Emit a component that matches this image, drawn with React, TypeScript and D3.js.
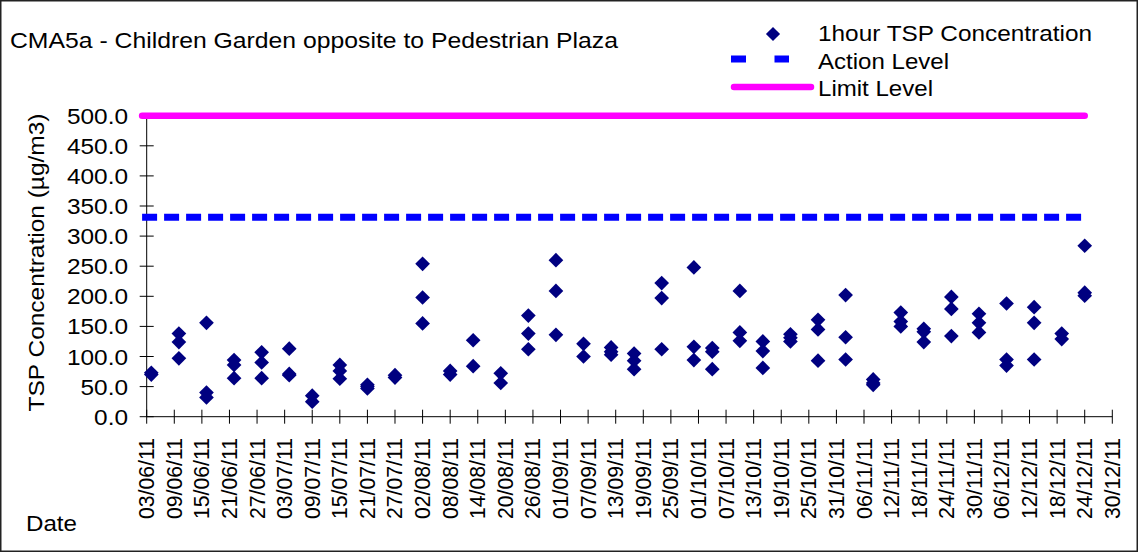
import React, { useRef, useEffect } from 'react';
import * as d3 from 'd3';

// sampling days, up to three 1-hour readings on each day
const sampleDates = [
  '2011-06-04', '2011-06-10', '2011-06-16', '2011-06-22', '2011-06-28', '2011-07-04',
  '2011-07-09', '2011-07-15', '2011-07-21', '2011-07-27', '2011-08-02', '2011-08-08',
  '2011-08-13', '2011-08-19', '2011-08-25', '2011-08-31', '2011-09-06', '2011-09-12',
  '2011-09-17', '2011-09-23', '2011-09-30', '2011-10-04', '2011-10-10', '2011-10-15',
  '2011-10-21', '2011-10-27', '2011-11-02', '2011-11-08', '2011-11-14', '2011-11-19',
  '2011-11-25', '2011-12-01', '2011-12-07', '2011-12-13', '2011-12-19', '2011-12-24',
];
const reading1 = [73, 138, 156, 94, 107, 113, 35, 86, 53, 69, 254, 76, 127, 72, 168, 260, 121, 115,
  105, 222, 248, 114, 209, 125, 137, 161, 202, 62, 173, 146, 199, 171, 188, 182, 138, 284];
const reading2 = [70, 124, 40, 86, 90, 71, 25, 76, 50, 65, 198, 70, 84, 56, 138, 209, 100, 108,
  93, 197, 116, 108, 140, 109, 131, 145, 132, 56, 158, 141, 179, 156, 95, 156, 129, 206];
const reading3 = [null, 97, 32, 64, 64, 69, null, 63, 47, null, 155, null, null, null, 112, 136, null, 103,
  79, 112, 94, 79, 126, 81, 125, 93, 95, 53, 150, 124, 134, 140, 85, 95, null, 201];

const actionLevel = 331.5;
const limitLevel = 500;
const levelDates = ['2011-06-02', '2011-12-24'];

const yTicks = [0, 50, 100, 150, 200, 250, 300, 350, 400, 450, 500];
const xFirstTick = '2011-06-03';
const xLastTick = '2011-12-30';

const titleText = 'CMA5a - Children Garden opposite to Pedestrian Plaza';
const yTitle = 'TSP Concentration (µg/m3)';
const xTitle = 'Date';
const legendLabels = ['1hour TSP Concentration', 'Action Level', 'Limit Level'];

const W = 1138;
const H = 552;
const FONT = "'Liberation Sans', Arial, sans-serif";
const FS = 22.5;
const NAVY = '#000080';
const BLUE = '#0000FF';
const MAGENTA = '#FF00FF';

// the original text runs wider than its glyph height suggests (like a 24.4px Arial)
const spacedWidth = (s: string) =>
  s.split('').reduce((acc, ch) => acc + (ch === '.' ? 0.278 : 0.556), 0) * 24.4;

const App: React.FC = () => {
  const svgRef = useRef<SVGSVGElement | null>(null);

  useEffect(() => {
    const parse = d3.timeParse('%Y-%m-%d');
    const svg = d3.select(svgRef.current);
    svg.selectAll('*').remove();

    const x = d3.scaleTime()
      .domain([parse(xFirstTick)!, parse(xLastTick)!])
      .range([146.7, 1112.3]);
    const y = d3.scaleLinear().domain([0, 500]).range([416.7, 115.7]);
    const x0 = x.range()[0];
    const y0 = y(0);

    // frame
    svg.append('rect')
      .attr('x', 0.75).attr('y', 0.75)
      .attr('width', W - 1.5).attr('height', H - 1.5)
      .attr('fill', '#fff').attr('stroke', '#222').attr('stroke-width', 1.5);

    // title
    svg.append('text')
      .attr('x', 10).attr('y', 48)
      .attr('font-family', FONT).attr('font-size', FS)
      .attr('textLength', 608).attr('lengthAdjust', 'spacingAndGlyphs')
      .text(titleText);

    // y axis
    const axis = svg.append('g').attr('stroke', '#000').attr('stroke-width', 1);
    axis.append('line').attr('x1', x0).attr('x2', x0).attr('y1', y(500)).attr('y2', y0);
    axis.selectAll('line.ytick').data(yTicks).enter().append('line')
      .attr('class', 'ytick')
      .attr('x1', x0 - 7).attr('x2', x0 + 7)
      .attr('y1', (d: number) => y(d)).attr('y2', (d: number) => y(d));

    svg.selectAll('text.ylab').data(yTicks).enter().append('text')
      .attr('class', 'ylab')
      .attr('x', 128).attr('y', (d: number) => y(d) + 8)
      .attr('text-anchor', 'end')
      .attr('font-family', FONT).attr('font-size', FS)
      .attr('textLength', (d: number) => spacedWidth(d.toFixed(1)))
      .attr('lengthAdjust', 'spacingAndGlyphs')
      .text((d: number) => d.toFixed(1));

    // x axis
    const xTicks = d3.timeDay.range(parse(xFirstTick)!, d3.timeDay.offset(parse(xLastTick)!, 1), 6);
    axis.append('line').attr('x1', x0).attr('x2', x.range()[1]).attr('y1', y0).attr('y2', y0);
    axis.selectAll('line.xtick').data(xTicks).enter().append('line')
      .attr('class', 'xtick')
      .attr('x1', (d: Date) => x(d)).attr('x2', (d: Date) => x(d))
      .attr('y1', y0 - 7).attr('y2', y0 + 7);

    const fmt = d3.timeFormat('%d/%m/%y');
    svg.selectAll('text.xlab').data(xTicks).enter().append('text')
      .attr('class', 'xlab')
      .attr('transform', (d: Date) => `translate(${x(d) + 7.5},438) rotate(-90)`)
      .attr('text-anchor', 'end')
      .attr('font-family', FONT).attr('font-size', 21.5)
      .attr('textLength', 81).attr('lengthAdjust', 'spacingAndGlyphs')
      .text((d: Date) => fmt(d));

    // axis titles
    svg.append('text')
      .attr('transform', 'translate(44,262.5) rotate(-90)')
      .attr('text-anchor', 'middle')
      .attr('font-family', FONT).attr('font-size', FS)
      .attr('textLength', 298).attr('lengthAdjust', 'spacingAndGlyphs')
      .text(yTitle);
    svg.append('text')
      .attr('x', 26).attr('y', 531)
      .attr('font-family', FONT).attr('font-size', FS)
      .attr('textLength', 51).attr('lengthAdjust', 'spacingAndGlyphs')
      .text(xTitle);

    // limit & action levels
    const levelLine = d3.line<Date>().x((d: Date) => x(d));
    const lDates = levelDates.map((s) => parse(s)!);
    svg.append('path')
      .attr('d', levelLine.y(() => y(limitLevel))(lDates))
      .attr('fill', 'none').attr('stroke', MAGENTA)
      .attr('stroke-width', 6.5).attr('stroke-linecap', 'round');
    svg.append('path')
      .attr('d', levelLine.y(() => y(actionLevel))(lDates))
      .attr('fill', 'none').attr('stroke', BLUE)
      .attr('stroke-width', 7).attr('stroke-dasharray', '15 7');

    // readings
    const points: { date: Date; value: number }[] = [];
    sampleDates.forEach((s, i) => {
      [reading1[i], reading2[i], reading3[i]].forEach((v) => {
        if (v != null) points.push({ date: parse(s)!, value: v });
      });
    });
    const diamond = d3.symbol(d3.symbolSquare, 108)();
    svg.append('g').selectAll('path').data(points).enter().append('path')
      .attr('d', diamond)
      .attr('transform', (d) => `translate(${x(d.date)},${y(d.value)}) rotate(45)`)
      .attr('fill', NAVY);

    // legend
    const legend = svg.append('g');
    legend.append('path')
      .attr('d', d3.symbol(d3.symbolSquare, 100)())
      .attr('transform', 'translate(773,34) rotate(45)')
      .attr('fill', NAVY);
    legend.append('line')
      .attr('x1', 731).attr('x2', 789).attr('y1', 59).attr('y2', 59)
      .attr('stroke', BLUE).attr('stroke-width', 7).attr('stroke-dasharray', '15 28.5');
    legend.append('line')
      .attr('x1', 734).attr('x2', 811).attr('y1', 87).attr('y2', 87)
      .attr('stroke', MAGENTA).attr('stroke-width', 6.5).attr('stroke-linecap', 'round');
    const legendLens = [274, 131, 115];
    legend.selectAll('text').data(legendLabels).enter().append('text')
      .attr('x', 818).attr('y', (_: string, i: number) => 41 + i * 27.5)
      .attr('font-family', FONT).attr('font-size', FS)
      .attr('textLength', (_: string, i: number) => legendLens[i])
      .attr('lengthAdjust', 'spacingAndGlyphs')
      .text((d: string) => d);
  }, []);

  return (
    <svg
      ref={svgRef}
      width={W}
      height={H}
      style={{ position: 'absolute', left: 0, top: 0, background: '#fff' }}
    />
  );
};

export default App;
